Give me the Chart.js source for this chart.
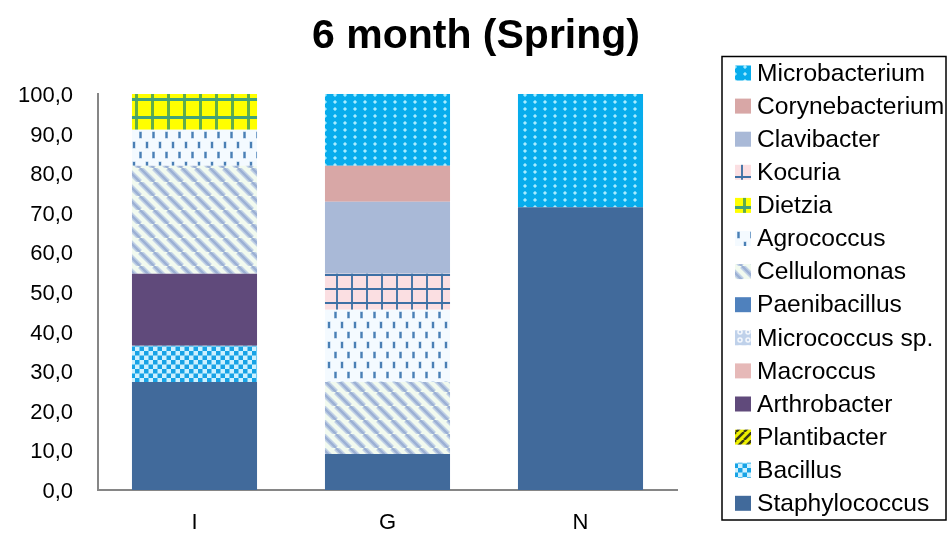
<!DOCTYPE html>
<html lang="en">

<head>
  <meta charset="UTF-8">
  <meta name="viewport" content="width=device-width, initial-scale=1.0">
  <title>6 month (Spring)</title>
  <style>
    html, body { margin: 0; padding: 0; background: #fff; }
    #wrap { width: 948px; height: 537px; }
  </style>
</head>

<body>
  <div id="wrap"><canvas id="chart" width="948" height="537"></canvas></div>
  <script src="https://cdn.jsdelivr.net/npm/chart.js@4/dist/chart.umd.min.js"></script>
  <script>
    const sites = ['I', 'G', 'N']

    // share of isolates per genus (%), bottom of the stack first
    const staphylococcus = [27.3, 9.1, 71.4]
    const bacillus = [9.1, 0, 0]
    const plantibacter = [0, 0, 0]
    const arthrobacter = [18.2, 0, 0]
    const macroccus = [0, 0, 0]
    const micrococcusSp = [0, 0, 0]
    const paenibacillus = [0, 0, 0]
    const cellulomonas = [27.3, 18.2, 0]
    const agrococcus = [9.1, 18.2, 0]
    const dietzia = [9.1, 0, 0]
    const kocuria = [0, 9.1, 0]
    const clavibacter = [0, 18.2, 0]
    const corynebacterium = [0, 9.1, 0]
    const microbacterium = [0, 18.2, 28.6]

    const yTicks = [0, 10, 20, 30, 40, 50, 60, 70, 80, 90, 100]
    const chartTitle = '6 month (Spring)'

    const canvas = document.getElementById('chart')
    const ctx = canvas.getContext('2d')

    // small repeating fills, Excel style
    function tile(w, h, draw) {
      const c = document.createElement('canvas')
      c.width = w
      c.height = h
      draw(c.getContext('2d'), w, h)
      return ctx.createPattern(c, 'repeat')
    }

    const fills = {
      staphylococcus: '#416a9b',
      bacillus: tile(9, 9, g => {
        g.fillStyle = '#cdf1ff'; g.fillRect(0, 0, 9, 9)
        g.fillStyle = '#17a3e6'
        g.fillRect(0, 0, 4.5, 4.5); g.fillRect(4.5, 4.5, 4.5, 4.5)
      }),
      plantibacter: tile(8, 8, g => {
        g.fillStyle = '#eef000'; g.fillRect(0, 0, 8, 8)
        g.strokeStyle = '#3b3b14'; g.lineWidth = 2.5
        g.beginPath()
        for (const k of [-1, 0, 1]) { g.moveTo(k * 8, 8); g.lineTo(k * 8 + 8, 0) }
        g.stroke()
      }),
      arthrobacter: '#604a7b',
      macroccus: '#e6b9b8',
      micrococcusSp: tile(8, 8, g => {
        g.fillStyle = '#bfd1ea'; g.fillRect(0, 0, 8, 8)
        g.strokeStyle = '#f4f8fd'; g.lineWidth = 1.5
        g.beginPath(); g.arc(4, 4, 2, 0, Math.PI * 2); g.stroke()
      }),
      paenibacillus: '#4f81bd',
      cellulomonas: tile(14, 14, g => {
        g.fillStyle = '#f2faef'; g.fillRect(0, 0, 14, 14)
        g.strokeStyle = '#c2d2e6'; g.lineWidth = 5.5
        g.beginPath()
        for (const k of [-1, 0, 1]) { g.moveTo(k * 14, 0); g.lineTo(k * 14 + 14, 14) }
        g.stroke()
        g.strokeStyle = '#9cb1d4'; g.lineWidth = 2.5
        g.stroke()
      }),
      agrococcus: tile(13, 20, g => {
        g.fillStyle = '#f4faff'; g.fillRect(0, 0, 13, 20)
        g.fillStyle = '#a9c6e3'
        g.fillRect(2.5, 1.5, 3, 7); g.fillRect(9, 11.5, 3, 7)
        g.fillStyle = '#4a7fb4'
        g.fillRect(3, 2, 2, 6); g.fillRect(9.5, 12, 2, 6)
      }),
      dietzia: tile(16, 18, g => {
        g.fillStyle = '#ffff00'; g.fillRect(0, 0, 16, 18)
        g.fillStyle = '#62ad48'; g.fillRect(7, 0, 3, 18)
        g.fillStyle = '#43a27a'; g.fillRect(0, 8, 16, 3)
      }),
      kocuria: tile(15, 14, g => {
        g.fillStyle = '#fbdfe2'; g.fillRect(0, 0, 15, 14)
        g.fillStyle = '#4a78a8'; g.fillRect(6, 0, 2, 14)
        g.fillStyle = '#3d70a5'; g.fillRect(0, 8, 15, 2)
      }),
      clavibacter: '#a9b9d7',
      corynebacterium: '#d8a7a6',
      microbacterium: tile(10, 7, g => {
        g.fillStyle = '#07acec'; g.fillRect(0, 0, 10, 7)
        g.fillStyle = '#5fd0f8'; g.fillRect(3, 3, 4, 2); g.fillRect(4, 2, 2, 4)
        g.fillStyle = '#a6ecff'; g.fillRect(4, 3, 2, 2)
      })
    }

    const series = [
      ['Staphylococcus', staphylococcus, fills.staphylococcus],
      ['Bacillus', bacillus, fills.bacillus],
      ['Plantibacter', plantibacter, fills.plantibacter],
      ['Arthrobacter', arthrobacter, fills.arthrobacter],
      ['Macroccus', macroccus, fills.macroccus],
      ['Micrococcus sp.', micrococcusSp, fills.micrococcusSp],
      ['Paenibacillus', paenibacillus, fills.paenibacillus],
      ['Cellulomonas', cellulomonas, fills.cellulomonas],
      ['Agrococcus', agrococcus, fills.agrococcus],
      ['Dietzia', dietzia, fills.dietzia],
      ['Kocuria', kocuria, fills.kocuria],
      ['Clavibacter', clavibacter, fills.clavibacter],
      ['Corynebacterium', corynebacterium, fills.corynebacterium],
      ['Microbacterium', microbacterium, fills.microbacterium]
    ]

    // title over the whole canvas + boxed legend on the right
    // (top legend entry = top of the stack)
    const frame = {
      id: 'frame',
      afterDraw(chart) {
        const c = chart.ctx
        c.save()
        c.fillStyle = '#000'
        c.font = 'bold 41px "Liberation Sans", Arial, sans-serif'
        c.textAlign = 'center'
        c.textBaseline = 'alphabetic'
        c.fillText(chartTitle, 476, 48)

        c.textAlign = 'left'
        c.strokeStyle = '#000'
        c.lineWidth = 1.5
        c.strokeRect(722, 56.5, 224, 463.5)
        c.font = '24.6px "Liberation Sans", Arial, sans-serif'
        c.textBaseline = 'middle'
        const sets = chart.data.datasets.slice().reverse()
        sets.forEach((ds, i) => {
          const y = 73 + i * 33.1
          c.fillStyle = ds.backgroundColor
          c.fillRect(735, y - 7.5, 16, 15)
          c.fillStyle = '#000'
          c.fillText(ds.label, 757, y + 1)
        })
        c.restore()
      }
    }

    const tickFont = { family: '"Liberation Sans", Arial, sans-serif', size: 22 }

    new Chart(ctx, {
      type: 'bar',
      data: {
        labels: sites,
        datasets: series.map(([label, data, fill]) => ({
          label,
          data,
          backgroundColor: fill,
          borderWidth: 0,
          categoryPercentage: 1,
          barPercentage: 0.648
        }))
      },
      options: {
        responsive: false,
        animation: false,
        layout: { padding: { left: 0, right: 271, top: 94, bottom: 0 } },
        plugins: {
          legend: { display: false },
          tooltip: { enabled: false },
          title: { display: false }
        },
        scales: {
          x: {
            stacked: true,
            grid: { display: false, drawTicks: false },
            border: { color: '#868686', width: 2 },
            ticks: { color: '#000', font: tickFont, padding: 20 },
            afterFit(scale) { scale.height = 47 }
          },
          y: {
            stacked: true,
            min: 0,
            max: 100,
            grid: { display: false, drawTicks: false },
            border: { color: '#868686', width: 2 },
            afterBuildTicks(scale) { scale.ticks = yTicks.map(v => ({ value: v })) },
            ticks: {
              color: '#000',
              font: tickFont,
              padding: 25,
              labelOffset: 2,
              callback: v => v.toFixed(1).replace('.', ',')
            },
            afterFit(scale) { scale.width = 98 }
          }
        }
      },
      plugins: [frame]
    })
  </script>
</body>

</html>
